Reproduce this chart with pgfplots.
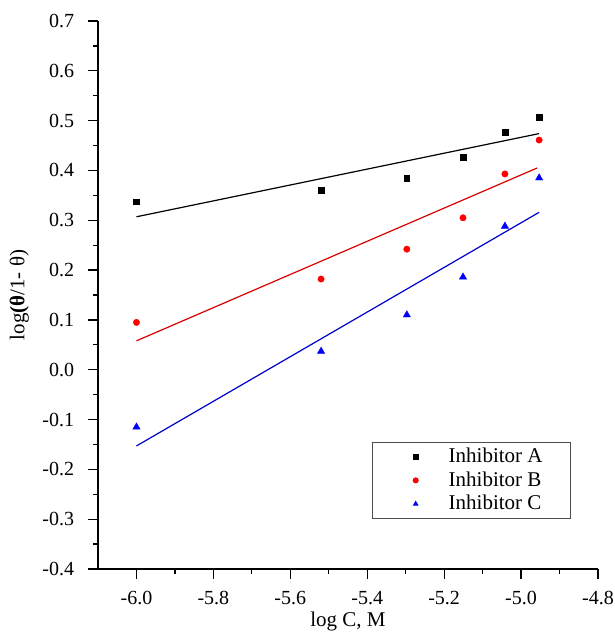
\documentclass[border=0pt]{standalone}
\usepackage{fontspec}
\setmainfont{Liberation Serif}
\usepackage{pgfplots}
\pgfplotsset{compat=1.18}

\begin{document}
\fontsize{20}{22}\selectfont
\begin{tikzpicture}
\useasboundingbox (-98pt,-63pt) rectangle (517pt,569pt);
\begin{axis}[
    scale only axis,
    width=500pt, height=548pt,
    xmin=-6.1, xmax=-4.8,
    ymin=-0.4, ymax=0.7,
    axis x line*=bottom, axis y line*=left,
    axis line style={line width=1.4pt},
    xtick={-6.0,-5.8,...,-4.79},
    ytick={-0.4,-0.3,...,0.71},
    minor x tick num=1, minor y tick num=1,
    tick align=outside,
    major tick length=10pt, minor tick length=5pt,
    every tick/.style={black, line width=1.2pt},
    /pgf/number format/fixed,
    /pgf/number format/fixed zerofill,
    /pgf/number format/precision=1,
    /pgf/number format/assume math mode=true,
    ticklabel style={font=\fontsize{20}{22}\selectfont},
    xticklabel style={yshift=-5pt},
    yticklabel style={xshift=-7pt},
    xlabel={log C, M},
    ylabel={log\textbf{(θ}/1- θ)},
    label style={font=\fontsize{21}{23}\selectfont},
    xlabel style={yshift=6pt},
    legend style={at={(0.946,0.091)}, anchor=south east, draw=black!70,
        line width=0.8pt, font=\fontsize{21}{23}\selectfont,
        row sep=2pt, inner xsep=7pt, inner ysep=4pt},
    legend cell align=left,
    legend image code/.code={\path[draw=none] (0pt,0pt) -- (67pt,0pt); \draw[mark size=2.6pt] plot coordinates {(36pt,0pt)};},
]
\addplot[only marks, mark=square*, mark size=2.8pt, black] coordinates {
    (-6.00,0.337) (-5.52,0.360) (-5.297,0.385) (-5.151,0.427) (-5.042,0.477) (-4.953,0.507)};
\addplot[only marks, mark=*, mark size=3.2pt, red] coordinates {
    (-6.00,0.095) (-5.52,0.182) (-5.297,0.242) (-5.151,0.305) (-5.042,0.393) (-4.953,0.461)};
\addplot[only marks, mark=triangle*, mark size=4.2pt, blue] coordinates {
    (-6.00,-0.115) (-5.52,0.037) (-5.297,0.110) (-5.151,0.186) (-5.042,0.288) (-4.953,0.385)};
\addplot[black, line width=1.2pt, forget plot] coordinates {(-6.00,0.307) (-4.953,0.474)};
\addplot[red!85!black, line width=1.2pt, forget plot] coordinates {(-6.00,0.058) (-4.958,0.405)};
\addplot[blue!80!black, line width=1.2pt, forget plot] coordinates {(-6.00,-0.153) (-4.953,0.316)};
\legend{Inhibitor A\rule{19pt}{0pt}, Inhibitor B\rule{19pt}{0pt}, Inhibitor C\rule{19pt}{0pt}}
\end{axis}
\end{tikzpicture}
\end{document}
